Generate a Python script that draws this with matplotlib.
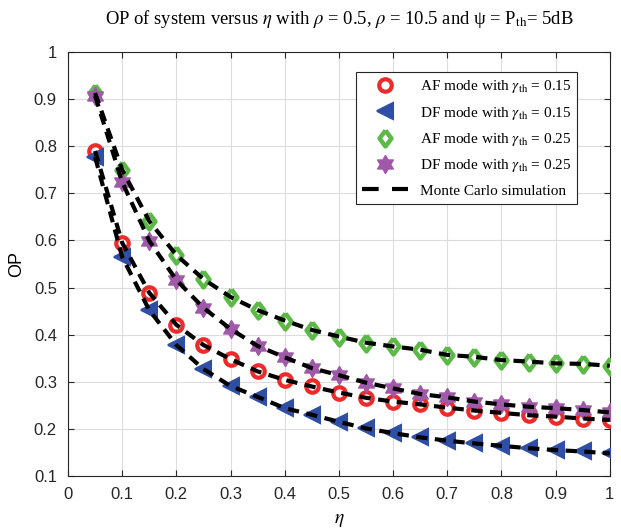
import matplotlib
matplotlib.use("Agg")
import matplotlib.pyplot as plt
from matplotlib.lines import Line2D
import numpy as np

plt.rcParams['mathtext.fontset'] = 'stix'

eta = [0.05, 0.10, 0.15, 0.20, 0.25, 0.30, 0.35, 0.40, 0.45, 0.50,
       0.55, 0.60, 0.65, 0.70, 0.75, 0.80, 0.85, 0.90, 0.95, 1.00]

af_015 = [0.790, 0.595, 0.489, 0.421, 0.378, 0.348, 0.322, 0.304, 0.290, 0.277,
          0.266, 0.258, 0.252, 0.245, 0.239, 0.234, 0.229, 0.226, 0.222, 0.219]
df_015 = [0.777, 0.565, 0.452, 0.378, 0.327, 0.291, 0.268, 0.244, 0.230, 0.215,
          0.201, 0.191, 0.182, 0.175, 0.169, 0.164, 0.159, 0.155, 0.152, 0.148]
af_025 = [0.913, 0.750, 0.641, 0.569, 0.518, 0.480, 0.452, 0.430, 0.410, 0.396,
          0.383, 0.375, 0.368, 0.357, 0.353, 0.346, 0.343, 0.339, 0.338, 0.334]
df_025 = [0.907, 0.724, 0.599, 0.516, 0.457, 0.412, 0.376, 0.352, 0.329, 0.314,
          0.298, 0.286, 0.274, 0.267, 0.258, 0.252, 0.247, 0.244, 0.240, 0.235]

x_ticks = [0, 0.1, 0.2, 0.3, 0.4, 0.5, 0.6, 0.7, 0.8, 0.9, 1]
x_ticklabels = ['0', '0.1', '0.2', '0.3', '0.4', '0.5', '0.6', '0.7', '0.8', '0.9', '1']
y_ticks = [0.1, 0.2, 0.3, 0.4, 0.5, 0.6, 0.7, 0.8, 0.9, 1]
y_ticklabels = ['0.1', '0.2', '0.3', '0.4', '0.5', '0.6', '0.7', '0.8', '0.9', '1']

# marker shapes (styling)
ang = np.deg2rad(90 + 30 * np.arange(13))
rad = np.where(np.arange(13) % 2 == 0, 1.0, 1 / np.sqrt(3))
hexagram = list(zip(rad * np.cos(ang), rad * np.sin(ang)))
diamond = [(0, 1), (0.75, 0), (0, -1), (-0.75, 0), (0, 1)]

fig = plt.figure(figsize=(6.21, 5.29), dpi=100)
ax = fig.add_axes([0.1095, 0.1002, 0.8725, 0.8015])

red = '#EE2B2B'
blue = '#2F4EA5'
green = '#5DB947'
purple = '#A058A8'

h1, = ax.plot(eta, af_015, linestyle='none', marker='o', ms=9, mfc='white', mec=red, mew=3,
              label=r'AF mode with $\gamma_{\rm th}$ = 0.15', zorder=3)
h2, = ax.plot(eta, df_015, linestyle='none', marker='<', ms=11.5, mfc=blue, mec=blue, mew=1.5,
              label=r'DF mode with $\gamma_{\rm th}$ = 0.15', zorder=3)
h3, = ax.plot(eta, af_025, linestyle='none', marker=diamond, ms=11.5, mfc='white', mec=green, mew=3.2,
              label=r'AF mode with $\gamma_{\rm th}$ = 0.25', zorder=3)
h4, = ax.plot(eta, df_025, linestyle='none', marker=hexagram, ms=13, mfc=purple, mec=purple, mew=1,
              label=r'DF mode with $\gamma_{\rm th}$ = 0.25', zorder=3)

for s in [af_015, df_015, af_025, df_025]:
    ax.plot(eta, s, color='black', linestyle=(0, (2.7, 1.8)), lw=3, zorder=4)

h5 = Line2D([], [], color='black', linestyle=(0, (4.0, 3.2)), lw=3,
            label='Monte Carlo simulation')

ax.set_xlim(0, 1)
ax.set_ylim(0.1, 1)
ax.set_xticks(x_ticks)
ax.set_xticklabels(x_ticklabels)
ax.set_yticks(y_ticks)
ax.set_yticklabels(y_ticklabels)
ax.grid(True, color='#DCDCDC', lw=0.8)
ax.set_axisbelow(True)
ax.tick_params(direction='in', top=True, right=True, length=4, width=0.8,
               labelsize=12, colors='#262626', pad=8)
for lab in ax.get_xticklabels() + ax.get_yticklabels():
    lab.set_family('Liberation Sans')
for sp in ax.spines.values():
    sp.set_color('#262626')
    sp.set_linewidth(0.8)

ax.set_xlabel(r'$\eta$', fontsize=14, labelpad=6)
ax.set_ylabel('OP', fontsize=13, family='Liberation Sans', labelpad=6)
ax.set_title(r'OP of system versus $\eta$ with $\rho$ = 0.5, $\rho$ = 10.5 and ψ = P$_{\rm th}$= 5dB',
             fontsize=13.4, family='Liberation Serif', pad=20)

leg = ax.legend(handles=[h1, h2, h3, h4, h5], loc='upper right', bbox_to_anchor=(0.94, 0.953),
                borderaxespad=0, fancybox=False, edgecolor='#262626', framealpha=1,
                handlelength=3.0, handletextpad=0.8,
                prop={'family': 'Liberation Serif', 'size': 11}, borderpad=0.4,
                labelspacing=0.62)
leg.get_frame().set_linewidth(0.8)

fig.savefig('out.png', dpi=100)
